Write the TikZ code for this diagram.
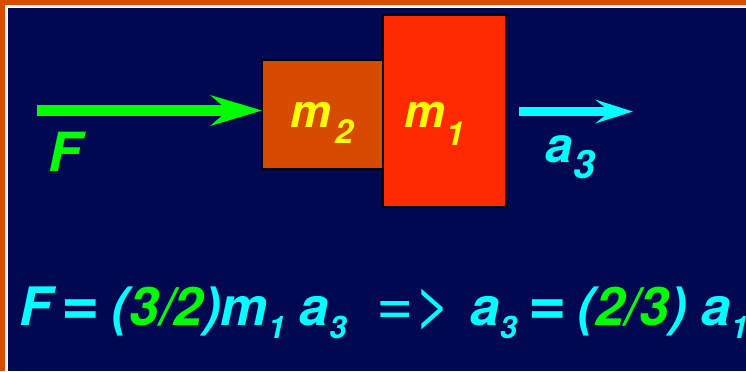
\documentclass[tikz,border=0pt]{standalone}
\usepackage{fontspec}
\setmainfont{TeX Gyre Heros}
\usetikzlibrary{arrows.meta}
\definecolor{bgnavy}{RGB}{0,8,80}
\definecolor{frameor}{RGB}{217,75,0}
\definecolor{boxtwo}{RGB}{214,75,0}
\definecolor{boxone}{RGB}{255,42,0}
\definecolor{ylw}{RGB}{255,255,0}
\definecolor{grn}{RGB}{0,255,0}
\definecolor{cyn}{RGB}{0,255,255}
\newcommand\mysub[6]{{\fontsize{#2bp}{#2bp}\selectfont #1}\hspace{#6bp}\raisebox{-#5bp}{\fontsize{#4bp}{#4bp}\selectfont #3}}
\newcommand\esub[1]{\raisebox{-13bp}{\fontsize{31bp}{31bp}\selectfont #1}}
\newcommand\eqsign{{\fontsize{66bp}{66bp}\selectfont\upshape =}}
\tikzset{
  mass/.style={draw=black, line width=2.5bp, inner sep=0pt, outer sep=0pt},
  lab/.style={anchor=base west, inner sep=0pt, outer sep=0pt, font=\bfseries\itshape},
}
\begin{document}
\begin{tikzpicture}[x=1bp,y=-1bp]
\useasboundingbox (0,0) rectangle (746,371);
% frame
\fill[frameor] (0,0) rectangle (746,371);
\fill[white] (5.3,5.3) rectangle (746,371);
\fill[bgnavy] (7.5,7.5) rectangle (746,371);
% boxes
\node[mass, fill=boxtwo, minimum width=121bp, minimum height=109bp] (m2) at (322.5,114.5) {};
\node[mass, fill=boxone, minimum width=123bp, minimum height=192bp] (m1) at (444.5,111) {};
% box labels
\node[lab, text=ylw] (m2lab) at (290,127) {\mysub{m}{46}{2}{33}{16}{4}};
\node[lab, text=ylw] (m1lab) at (404,127) {\mysub{m}{46}{1}{33}{18}{1}};
% force arrow
\coordinate (Fs) at (37,110.5);
\draw[grn, line width=10.5bp, -{Stealth[length=52bp,width=31bp,inset=18bp,line width=0pt]}] (Fs) -- (Fs -| m2.west);
\node[lab, text=grn] (Flab) at (48,171) {\fontsize{54bp}{54bp}\selectfont F};
% acceleration arrow
\coordinate (as) at (519,111.5);
\coordinate (ae) at (633,111.5);
\draw[cyn, line width=8.5bp, -{Stealth[length=38bp,width=24bp,inset=15bp,line width=0pt]}] (as) -- (ae);
\node[lab, text=cyn] (alab) at (545,162) {\mysub{a}{49}{3}{39}{16}{1}};
% equation
\node[lab, text=cyn] (eq) at (19,325) {\fontsize{53bp}{53bp}\selectfont
F\hspace{10bp}\eqsign\hspace{12bp}(\textcolor{grn}{3/2})m\esub{1} a\esub{3}\hspace{30bp}{\fontsize{64bp}{64bp}\selectfont\mdseries\upshape =>}\hspace{19bp}a\esub{3}\hspace{11bp}\eqsign\hspace{11bp}(\textcolor{grn}{2/3}) a\esub{1}};
\end{tikzpicture}
\end{document}
